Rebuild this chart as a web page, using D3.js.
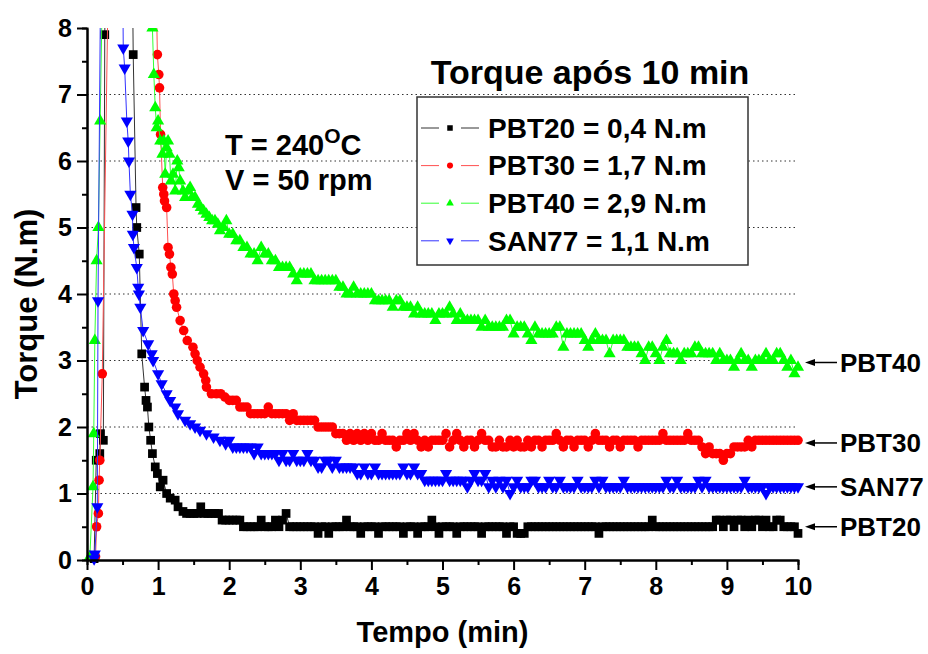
<!DOCTYPE html>
<html>
<head>
<meta charset="utf-8">
<script src="https://cdn.jsdelivr.net/npm/d3@7"></script>
<style>
  body { margin: 0; background: #fff; }
  svg text { font-family: Arial, "Liberation Sans", sans-serif; font-weight: bold; fill: #000; }
</style>
</head>
<body>
<svg id="chart" width="928" height="654"></svg>
<script>
// ---- Torque readings (N.m) versus mixing time (min) ----
// Start-up transient: explicit [time, torque] readings (peak readings lie above the 8 N.m axis)
const pbt20Head = [[0.10,0.02],[0.13,1.5],[0.18,1.6],[0.19,1.9],[0.23,1.8],[0.25,7.9],[0.45,30],
  [0.65,7.6],[0.69,5.3],[0.70,5.0],[0.735,4.6],[0.77,3.1],[0.81,2.6],[0.83,2.4],[0.85,2.3],[0.87,2.0],
  [0.895,1.8],[0.92,1.6],[0.96,1.4],[0.99,1.3],[1.03,1.1],[1.07,1.2],[1.12,1.0],[1.17,0.93],[1.24,0.9],
  [1.28,0.8],[1.35,0.73],[1.40,0.7],[1.45,0.7],[1.50,0.7],[1.55,0.7],[1.60,0.8],[1.65,0.7],[1.70,0.7],
  [1.75,0.7],[1.80,0.7],[1.85,0.7],[1.90,0.6],[1.95,0.6]];
const pbt30Head = [[0.12,0.05],[0.135,0.5],[0.16,0.7],[0.17,1.2],[0.18,1.5],[0.215,2.8],[0.6,30],
  [0.99,7.6],[1.01,7.3],[1.02,7.1],[1.035,6.4],[1.065,5.6],[1.08,5.5],[1.09,5.4],[1.12,5.3],[1.14,4.7],
  [1.16,4.6],[1.18,4.4],[1.20,4.3],[1.22,4.0],[1.24,3.9],[1.26,3.8],[1.31,3.6],[1.36,3.45],[1.41,3.3],
  [1.49,3.2],[1.52,3.1],[1.55,3.0],[1.59,2.9],[1.64,2.8],[1.67,2.7],[1.68,2.6],[1.75,2.5],[1.82,2.5],
  [1.88,2.5],[1.94,2.45]];
const pbt40Head = [[0.04,0.05],[0.085,1.1],[0.095,1.9],[0.11,3.3],[0.135,4.5],[0.16,5.0],[0.185,6.6],[0.55,30],
  [0.92,8.0],[0.94,7.3],[0.96,6.8],[0.98,6.5],[1.0,6.6],[1.03,6.3],[1.06,6.1],[1.08,6.3],[1.10,5.8],
  [1.12,6.2],[1.14,6.3],[1.16,6.1],[1.18,5.7],[1.21,5.8],[1.24,5.55],[1.27,6.0],[1.29,5.9],[1.31,5.7],
  [1.35,5.55],[1.38,5.45],[1.42,5.55],[1.45,5.6],[1.48,5.45],[1.52,5.45],[1.56,5.35],[1.60,5.3],
  [1.64,5.25],[1.68,5.2],[1.72,5.15],[1.76,5.1],[1.80,5.1],[1.84,5.05],[1.87,4.95],[1.92,5.0],[1.96,5.1]];
const san77Head = [[0.10,0.02],[0.11,0.09],[0.145,0.8],[0.155,3.9],[0.35,30],
  [0.51,7.7],[0.53,7.4],[0.56,6.6],[0.58,6.3],[0.59,6.0],[0.61,5.5],[0.64,5.2],[0.645,4.9],[0.66,4.7],
  [0.70,4.4],[0.72,4.1],[0.73,4.0],[0.75,3.8],[0.79,3.45],[0.86,3.25],[0.91,3.1],[0.93,3.0],[1.0,2.8],
  [1.05,2.65],[1.12,2.5],[1.17,2.4],[1.24,2.3],[1.28,2.2],[1.38,2.1],[1.45,2.05],[1.52,2.0],[1.59,1.95],
  [1.68,1.9],[1.78,1.85],[1.87,1.8],[1.95,1.75]];

// Logged readings from 2 min to 10 min, one every 0.05 min (one row per minute)
const tailStart = 2.0;
const sampleStep = 0.05;
const pbt20Tail = [
  0.6,0.6,0.6,0.6,0.5,0.5,0.5,0.5,0.5,0.6,0.5,0.5,0.5,0.6,0.5,0.6,0.7,0.5,0.5,0.5,
  0.5,0.5,0.5,0.5,0.5,0.4,0.5,0.5,0.4,0.5,0.5,0.5,0.5,0.6,0.5,0.5,0.5,0.4,0.5,0.5,
  0.5,0.5,0.4,0.5,0.5,0.5,0.5,0.5,0.5,0.4,0.5,0.5,0.5,0.4,0.5,0.5,0.5,0.6,0.5,0.4,
  0.5,0.5,0.5,0.5,0.4,0.5,0.5,0.5,0.5,0.5,0.5,0.4,0.5,0.5,0.5,0.5,0.5,0.5,0.4,0.5,
  0.5,0.4,0.4,0.4,0.5,0.5,0.5,0.5,0.5,0.5,0.5,0.5,0.5,0.5,0.5,0.5,0.5,0.5,0.5,0.5,
  0.5,0.5,0.5,0.5,0.4,0.5,0.5,0.5,0.5,0.5,0.5,0.5,0.5,0.5,0.5,0.5,0.5,0.5,0.5,0.6,
  0.5,0.5,0.5,0.5,0.5,0.5,0.5,0.5,0.5,0.5,0.5,0.5,0.5,0.5,0.5,0.5,0.5,0.6,0.6,0.5,
  0.6,0.6,0.5,0.6,0.6,0.5,0.6,0.5,0.6,0.6,0.5,0.6,0.5,0.5,0.6,0.6,0.5,0.5,0.5,0.5,
  0.4];
const pbt30Tail = [
  2.4,2.4,2.4,2.3,2.3,2.3,2.2,2.2,2.2,2.2,2.2,2.3,2.2,2.2,2.2,2.2,2.2,2.1,2.2,2.1,
  2.1,2.1,2.1,2.1,2.1,2.0,2.0,2.0,2.0,2.0,1.9,1.9,1.9,1.8,1.9,1.8,1.9,1.8,1.9,1.8,
  1.9,1.8,1.8,1.9,1.8,1.8,1.8,1.7,1.8,1.8,1.9,1.8,1.9,1.8,1.7,1.8,1.7,1.8,1.8,1.8,
  1.8,1.9,1.7,1.8,1.9,1.8,1.7,1.8,1.8,1.7,1.8,1.9,1.8,1.8,1.7,1.7,1.8,1.7,1.7,1.8,
  1.7,1.8,1.7,1.7,1.8,1.7,1.8,1.8,1.7,1.8,1.8,1.8,1.9,1.8,1.7,1.8,1.8,1.7,1.8,1.8,
  1.8,1.7,1.8,1.9,1.8,1.8,1.8,1.7,1.8,1.8,1.7,1.8,1.8,1.8,1.8,1.7,1.8,1.8,1.8,1.8,
  1.8,1.8,1.9,1.8,1.8,1.8,1.8,1.8,1.8,1.9,1.8,1.8,1.8,1.7,1.6,1.7,1.6,1.6,1.6,1.5,
  1.6,1.6,1.7,1.7,1.7,1.7,1.8,1.7,1.8,1.8,1.8,1.8,1.8,1.8,1.8,1.8,1.8,1.8,1.8,1.8,
  1.8];
const pbt40Tail = [
  4.9,4.9,4.8,4.8,4.7,4.7,4.6,4.6,4.5,4.7,4.6,4.6,4.5,4.5,4.4,4.4,4.4,4.4,4.3,4.2,
  4.3,4.3,4.3,4.3,4.2,4.2,4.2,4.2,4.2,4.2,4.2,4.1,4.1,4.0,4.0,4.1,4.0,4.0,4.0,4.0,
  4.0,3.9,3.9,3.9,3.9,3.9,3.8,3.9,3.9,3.8,3.8,3.8,3.7,3.8,3.7,3.7,3.7,3.7,3.6,3.7,
  3.7,3.7,3.8,3.7,3.6,3.7,3.6,3.6,3.6,3.6,3.6,3.5,3.6,3.5,3.5,3.5,3.5,3.5,3.6,3.6,
  3.4,3.5,3.5,3.5,3.4,3.3,3.5,3.4,3.4,3.4,3.4,3.4,3.5,3.5,3.2,3.4,3.4,3.4,3.4,3.4,
  3.3,3.2,3.3,3.4,3.3,3.3,3.3,3.1,3.3,3.3,3.3,3.3,3.2,3.2,3.2,3.2,3.1,3.0,3.2,3.2,
  3.1,3.0,3.2,3.3,3.1,3.1,3.1,3.0,3.1,3.1,3.1,3.2,3.2,3.1,3.1,3.1,3.1,3.0,3.1,3.0,
  3.0,3.0,2.9,3.0,3.1,3.0,3.0,2.9,3.0,3.0,3.0,3.1,3.0,3.0,3.1,3.1,3.0,2.9,3.0,2.8,
  2.9];
const san77Tail = [
  1.8,1.7,1.7,1.7,1.7,1.7,1.7,1.6,1.7,1.6,1.6,1.6,1.6,1.6,1.5,1.6,1.5,1.5,1.6,1.5,
  1.5,1.5,1.6,1.5,1.5,1.4,1.4,1.5,1.5,1.4,1.5,1.4,1.4,1.4,1.4,1.4,1.3,1.3,1.4,1.3,
  1.3,1.4,1.3,1.3,1.3,1.3,1.3,1.3,1.3,1.4,1.3,1.3,1.4,1.3,1.3,1.2,1.2,1.2,1.2,1.2,
  1.2,1.3,1.2,1.2,1.2,1.2,1.2,1.1,1.2,1.3,1.2,1.2,1.3,1.1,1.2,1.1,1.2,1.1,1.2,1.0,
  1.1,1.2,1.1,1.1,1.1,1.2,1.2,1.1,1.1,1.1,1.2,1.1,1.1,1.2,1.1,1.1,1.1,1.1,1.2,1.1,
  1.1,1.1,1.1,1.2,1.1,1.2,1.1,1.1,1.1,1.1,1.1,1.2,1.1,1.1,1.1,1.1,1.1,1.1,1.1,1.1,
  1.1,1.1,1.1,1.2,1.1,1.1,1.2,1.1,1.1,1.1,1.1,1.1,1.2,1.1,1.2,1.1,1.1,1.1,1.1,1.1,
  1.1,1.1,1.1,1.1,1.1,1.2,1.1,1.1,1.1,1.1,1.1,1.0,1.1,1.1,1.1,1.1,1.1,1.1,1.1,1.1,
  1.1];

const seriesNames = ["PBT20", "PBT30", "PBT40", "SAN77"];
const legendLabels = ["PBT20 = 0,4 N.m", "PBT30 = 1,7 N.m", "PBT40 = 2,9 N.m", "SAN77 = 1,1 N.m"];
const seriesColors = ["#000000", "#ff0000", "#00ff00", "#0000ff"];
const lineColors = ["#333333", "#ff5050", "#33ff33", "#3333ff"];
// Level reached at 10 min, marked by arrows at the right edge
const endLabels = ["PBT40", "PBT30", "SAN77", "PBT20"];
const endLevels = [2.97, 1.76, 1.1, 0.5];

const xTicks = [0,1,2,3,4,5,6,7,8,9,10];
const yTicks = [0,1,2,3,4,5,6,7,8];
const gridLevels = [1,2,3,4,5,6,7];

// ---- build full series ----
function buildSeries(head, tail) {
  const tailPts = tail.map((v, i) => [Math.round((tailStart + i * sampleStep) * 100) / 100, v]);
  return head.concat(tailPts);
}
const allSeries = [
  buildSeries(pbt20Head, pbt20Tail),
  buildSeries(pbt30Head, pbt30Tail),
  buildSeries(pbt40Head, pbt40Tail),
  buildSeries(san77Head, san77Tail)
];

// ---- layout ----
const svg = d3.select("#chart");
const plot = { left: 87, right: 798, top: 28, bottom: 560 };
const x = d3.scaleLinear().domain([0, 10]).range([plot.left, plot.right]);
const y = d3.scaleLinear().domain([0, 8]).range([plot.bottom, plot.top]);

svg.append("defs").append("clipPath").attr("id", "plotClip")
  .append("rect").attr("x", 0).attr("y", plot.top).attr("width", 928).attr("height", 654 - plot.top);

// gridlines
svg.append("g").selectAll("line").data(gridLevels).join("line")
  .attr("x1", plot.left).attr("x2", plot.right)
  .attr("y1", d => y(d)).attr("y2", d => y(d))
  .attr("stroke", "#333").attr("stroke-width", 1).attr("stroke-dasharray", "1.5,3");

// symbols
const symbolTypes = [d3.symbolSquare, d3.symbolCircle, d3.symbolTriangle, d3.symbolTriangle];
const symbolSizes = [76, 72, 64, 64];
const symbolRotate = [0, 0, 0, 180];

const dataLayer = svg.append("g").attr("clip-path", "url(#plotClip)");
const line = d3.line().x(d => x(d[0])).y(d => y(d[1]));

allSeries.forEach((pts, k) => {
  const g = dataLayer.append("g");
  g.append("path").datum(pts).attr("d", line)
    .attr("fill", "none").attr("stroke", lineColors[k]).attr("stroke-width", 1);
  const sym = d3.symbol().type(symbolTypes[k]).size(symbolSizes[k]);
  g.selectAll("path.pt").data(pts.filter(d => d[1] <= 8.5)).join("path")
    .attr("class", "pt")
    .attr("d", sym)
    .attr("transform", d => `translate(${x(d[0])},${y(d[1])}) rotate(${symbolRotate[k]})`)
    .attr("fill", seriesColors[k]);
});

// axes
const axisFont = 25;
const yAxis = svg.append("g").attr("transform", `translate(${plot.left},0)`)
  .call(d3.axisLeft(y).tickValues(yTicks).tickSize(10).tickSizeOuter(0).tickPadding(5));
const yMinor = svg.append("g").attr("transform", `translate(${plot.left},0)`)
  .call(d3.axisLeft(y).tickValues(d3.range(0.5, 8, 1)).tickSize(5).tickFormat(""));
const xAxis = svg.append("g").attr("transform", `translate(0,${plot.bottom})`)
  .call(d3.axisBottom(x).tickValues(xTicks).tickSize(10).tickSizeOuter(0).tickPadding(7));
const xMinor = svg.append("g").attr("transform", `translate(0,${plot.bottom})`)
  .call(d3.axisBottom(x).tickValues(d3.range(0.5, 10, 1)).tickSize(5).tickFormat(""));

[yAxis, yMinor, xAxis, xMinor].forEach(a => {
  a.select(".domain").attr("stroke", "#000").attr("stroke-width", 2);
  a.selectAll(".tick line").attr("stroke", "#000").attr("stroke-width", 2);
  a.selectAll(".tick text").attr("font-size", axisFont)
    .style("font-family", "Arial, 'Liberation Sans', sans-serif").style("font-weight", "bold");
});

// axis titles
svg.append("text").attr("x", (plot.left + plot.right) / 2).attr("y", 642)
  .attr("text-anchor", "middle").attr("font-size", 29).text("Tempo (min)");
svg.append("text").attr("transform", "translate(37,304) rotate(-90)")
  .attr("text-anchor", "middle").attr("font-size", 31).text("Torque (N.m)");

// conditions annotation
const cond = svg.append("text").attr("x", 225).attr("y", 155).attr("font-size", 29);
cond.append("tspan").text("T = 240");
cond.append("tspan").attr("font-size", 21).attr("dy", -12).text("O");
cond.append("tspan").attr("dy", 12).text("C");
svg.append("text").attr("x", 225).attr("y", 190).attr("font-size", 29).text("V = 50 rpm");

// legend
svg.append("text").attr("x", 590).attr("y", 84).attr("text-anchor", "middle")
  .attr("font-size", 34).text("Torque após 10 min");
const legend = svg.append("g");
legend.append("rect").attr("x", 417).attr("y", 97).attr("width", 331).attr("height", 168)
  .attr("fill", "#fff").attr("stroke", "#333").attr("stroke-width", 1.5);
legendLabels.forEach((lab, k) => {
  const cy = 128 + k * 37.6;
  legend.append("line").attr("x1", 421).attr("x2", 439).attr("y1", cy).attr("y2", cy)
    .attr("stroke", lineColors[k]).attr("stroke-width", 1);
  legend.append("line").attr("x1", 461).attr("x2", 479).attr("y1", cy).attr("y2", cy)
    .attr("stroke", lineColors[k]).attr("stroke-width", 1);
  legend.append("path").attr("d", d3.symbol().type(symbolTypes[k]).size(symbolSizes[k] * 0.4))
    .attr("transform", `translate(450,${cy}) rotate(${symbolRotate[k]})`).attr("fill", seriesColors[k]);
  legend.append("text").attr("x", 488).attr("y", cy).attr("dy", "0.35em")
    .attr("font-size", 28).text(lab);
});

// end-level arrows
const arrows = svg.append("g");
endLabels.forEach((lab, k) => {
  const ay = y(endLevels[k]);
  arrows.append("line").attr("x1", 812).attr("x2", 837).attr("y1", ay).attr("y2", ay)
    .attr("stroke", "#000").attr("stroke-width", 1.5);
  arrows.append("path").attr("d", `M805,${ay} L815,${ay - 3.5} L815,${ay + 3.5} Z`).attr("fill", "#000");
  arrows.append("text").attr("x", 840).attr("y", ay).attr("dy", "0.35em")
    .attr("font-size", 26).text(lab);
});
</script>
</body>
</html>
